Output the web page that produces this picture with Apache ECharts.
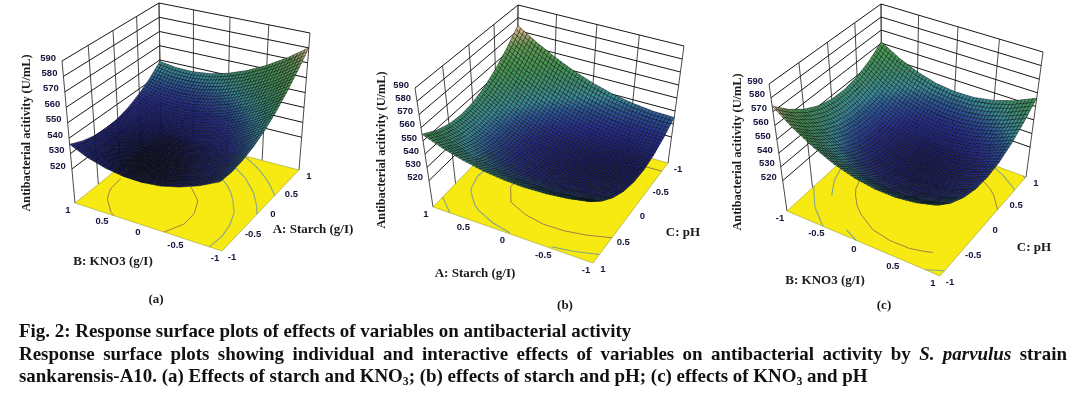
<!DOCTYPE html>
<html>
<head>
<meta charset="utf-8">
<title>Response surface plots</title>
<script src="https://cdn.jsdelivr.net/npm/echarts@6/dist/echarts.min.js"></script>
<style>
  * { margin: 0; padding: 0; }
  html, body { background: #fff; }
  #main { width: 1072px; height: 395px; }
</style>
</head>
<body>
<div id="main"></div>
<script>
// response values, rows bottom to top of the second factor
// (a) rows B: KNO3 -1..1, columns A: Starch -1..1
const surfaceA = [
  [541.0, 540.6, 541.8, 544.4, 548.5, 554.1, 561.3, 569.9, 580.0],
  [534.7, 533.9, 534.6, 536.8, 540.6, 545.8, 552.5, 560.7, 570.4],
  [530.0, 528.8, 529.1, 531.0, 534.3, 539.0, 545.4, 553.2, 562.5],
  [526.9, 525.3, 525.2, 526.6, 529.6, 534.0, 539.9, 547.3, 556.2],
  [525.5, 523.5, 523.0, 524.0, 526.5, 530.5, 536.0, 543.0, 551.5],
  [525.7, 523.3, 522.4, 523.0, 525.0, 528.6, 533.7, 540.3, 548.4],
  [527.5, 524.7, 523.4, 523.6, 525.3, 528.4, 533.1, 539.3, 547.0],
  [530.9, 527.7, 526.0, 525.8, 527.0, 529.8, 534.1, 539.9, 547.2],
  [536.0, 532.4, 530.3, 529.6, 530.5, 532.9, 536.8, 542.1, 549.0]
];
// (b) rows C: pH -1..1, columns A: Starch -1..1
const surfaceB = [
  [535.0, 535.5, 537.3, 540.2, 544.5, 550.0, 556.8, 564.7, 574.0],
  [528.1, 528.1, 529.4, 531.9, 535.7, 540.7, 547.0, 554.5, 563.3],
  [523.5, 523.0, 523.9, 525.9, 529.3, 533.8, 539.6, 546.7, 555.0],
  [521.3, 520.4, 520.8, 522.3, 525.2, 529.3, 534.6, 541.2, 549.1],
  [521.5, 520.1, 520.0, 521.1, 523.5, 527.1, 532.0, 538.1, 545.5],
  [524.1, 522.2, 521.6, 522.3, 524.2, 527.3, 531.8, 537.4, 544.3],
  [529.0, 526.7, 525.6, 525.8, 527.3, 529.9, 533.9, 539.0, 545.5],
  [536.3, 533.5, 532.0, 531.7, 532.7, 534.9, 538.4, 543.1, 549.1],
  [546.0, 542.7, 540.8, 540.0, 540.5, 542.2, 545.3, 549.5, 555.0]
];
// (c) rows C: pH -1..1, columns B: KNO3 -1..1
const surfaceC = [
  [574.0, 563.3, 554.8, 548.3, 544.0, 541.8, 541.7, 543.8, 548.0],
  [563.6, 553.2, 545.0, 538.9, 534.9, 533.1, 533.3, 535.7, 540.2],
  [555.7, 545.7, 537.8, 532.0, 528.4, 526.9, 527.4, 530.1, 535.0],
  [550.3, 540.6, 533.1, 527.6, 524.3, 523.1, 524.0, 527.0, 532.2],
  [547.5, 538.1, 530.9, 525.7, 522.8, 521.9, 523.1, 526.5, 532.0],
  [547.1, 538.0, 531.1, 526.3, 523.7, 523.2, 524.7, 528.4, 534.2],
  [549.2, 540.5, 533.9, 529.4, 527.1, 526.9, 528.8, 532.8, 539.0],
  [553.8, 545.4, 539.2, 535.0, 533.1, 533.2, 535.4, 539.8, 546.2],
  [561.0, 552.9, 547.0, 543.1, 541.5, 541.9, 544.5, 549.2, 556.0]
];
const responseTicks = [520, 530, 540, 550, 560, 570, 580, 590];
const factorTicks = [-1, -0.5, 0, 0.5, 1];
const contoursA = [527, 537, 546, 556];
const contoursB = [530, 540, 550];
const contoursC = [535, 545, 555];

const FONT_SERIF = '"Liberation Serif", serif';
const FONT_SANS = '"Liberation Sans", Arial, sans-serif';
const SUBDIV = 6;

// colour ramp of the surface
const rampStops = [518, 523, 530, 536, 541, 547, 556, 566, 574, 590];
const rampColors = ['#0c0c30', '#1a1a68', '#262c90', '#2c5698', '#3a8c98', '#3f9070', '#46974e', '#649a50', '#d8b084', '#e84c30'];

// camera of each panel: floor and top corners of the box in page pixels
// p00/p10/p11/p01 -> (column, row) fractions 00, 10, 11, 01
const views = [
  {
    values: surfaceA, levels: contoursA, zBase: 498, back: [1, 1], shade: -5,
    floor: [[222, 251], [299, 170], [161, 134], [75, 203]],
    top: [[218, 103], [310, 33], [159, 3], [62, 61]]
  },
  {
    values: surfaceB, levels: contoursB, zBase: 500, back: [1, 0], shade: 2,
    floor: [[668, 163], [517, 120], [433, 207], [593, 263]],
    top: [[684, 46], [518, 5], [415, 88], [587, 143]]
  },
  {
    values: surfaceC, levels: contoursC, zBase: 498, back: [0, 1], shade: 0,
    floor: [[787, 211], [940, 276], [1026, 177], [882, 124]],
    top: [[769, 84], [935, 146], [1043, 52], [881, 4]]
  }
];

// which factor runs along the front-left edge and the front-right edge of each panel
const edgeAxes = [
  { left: [0, 1], right: [1, 0], front: [0, 0] },
  { left: [1, 1], right: [0, 0], front: [0, 1] },
  { left: [0, 0], right: [1, 1], front: [1, 0] }
];

function quadMap(q) {
  const [p0, p1, p2, p3] = q;
  const dx1 = p1[0] - p2[0], dx2 = p3[0] - p2[0], sx = p0[0] - p1[0] + p2[0] - p3[0];
  const dy1 = p1[1] - p2[1], dy2 = p3[1] - p2[1], sy = p0[1] - p1[1] + p2[1] - p3[1];
  const det = dx1 * dy2 - dx2 * dy1;
  const g = (sx * dy2 - dx2 * sy) / det;
  const h = (dx1 * sy - sx * dy1) / det;
  const a = p1[0] - p0[0] + g * p1[0], b = p3[0] - p0[0] + h * p3[0];
  const d = p1[1] - p0[1] + g * p1[1], e = p3[1] - p0[1] + h * p3[1];
  return (u, v) => {
    const w = g * u + h * v + 1;
    return [(a * u + b * v + p0[0]) / w, (d * u + e * v + p0[1]) / w];
  };
}
views.forEach(function (view) {
  view.floorAt = quadMap(view.floor);
  view.topAt = quadMap(view.top);
});

function project(view, u, v, z) {
  const f = view.floorAt(u, v), t = view.topAt(u, v);
  const k = (z - view.zBase) / (590 - view.zBase);
  return [f[0] + (t[0] - f[0]) * k, f[1] + (t[1] - f[1]) * k];
}

function rampColor(z) {
  let i = 0;
  while (i < rampStops.length - 2 && z > rampStops[i + 1]) i++;
  const k = Math.max(0, Math.min(1, (z - rampStops[i]) / (rampStops[i + 1] - rampStops[i])));
  const hex = (c) => [1, 3, 5].map((p) => parseInt(c.substr(p, 2), 16));
  const c0 = hex(rampColors[i]), c1 = hex(rampColors[i + 1]);
  return 'rgb(' + c0.map((c, n) => Math.round(c + (c1[n] - c) * k)).join(',') + ')';
}

function line(api, a, b, color, width) {
  const p = api.coord(a), q = api.coord(b);
  return {
    type: 'line',
    shape: { x1: p[0], y1: p[1], x2: q[0], y2: q[1] },
    style: { stroke: color, lineWidth: width }
  };
}

function label(api, pt, dx, dy, text, align) {
  const p = api.coord(pt);
  return {
    type: 'text',
    style: {
      text: text, x: p[0] + dx, y: p[1] + dy, align: align, verticalAlign: 'middle',
      fill: '#14143c', font: 'bold 9.5px ' + FONT_SANS
    }
  };
}

// walls and floor of one panel
function renderFrame(view) {
  return function (params, api) {
    const children = [];
    const ub = view.back[0], vb = view.back[1];
    factorTicks.forEach(function (t) {
      const f = (t + 1) / 2;
      children.push(line(api, project(view, f, vb, view.zBase), project(view, f, vb, 590), '#4a4a4a', 1));
      children.push(line(api, project(view, ub, f, view.zBase), project(view, ub, f, 590), '#4a4a4a', 1));
    });
    responseTicks.forEach(function (z) {
      children.push(line(api, project(view, 0, vb, z), project(view, 1, vb, z), '#161616', 1));
      children.push(line(api, project(view, ub, 0, z), project(view, ub, 1, z), '#161616', 1));
    });
    const pts = view.floor.map(function (p) { return api.coord(p); });
    children.push({
      type: 'polygon', shape: { points: pts },
      style: { fill: '#f6ea12', stroke: '#8a8a30', lineWidth: 0.5 }
    });
    return { type: 'group', children: children };
  };
}

function renderLabels(view, edges) {
  return function (params, api) {
    const children = [];
    const L = edges.left, R = edges.right, F = edges.front;
    responseTicks.forEach(function (z) {
      children.push(label(api, project(view, L[0], L[1], z), -6, -3, String(z), 'right'));
    });
    factorTicks.forEach(function (t) {
      const f = (t + 1) / 2;
      const onLeft = L[0] !== F[0] ? [f, L[1]] : [L[0], f];
      const onRight = R[0] !== F[0] ? [f, R[1]] : [R[0], f];
      children.push(label(api, view.floorAt(onLeft[0], onLeft[1]), -7, 7, String(t), 'center'));
      children.push(label(api, view.floorAt(onRight[0], onRight[1]), 10, 6, String(t), 'center'));
    });
    return { type: 'group', children: children };
  };
}

// contour lines on the floor
function renderContours(view) {
  const grid = view.values, n = grid.length - 1;
  return function (params, api) {
    const children = [];
    view.levels.forEach(function (level, li) {
      const color = li === 0 ? '#8f5f58' : '#86a48c';
      for (let r = 0; r < n; r++) {
        for (let c = 0; c < n; c++) {
          const corners = [[c, r], [c + 1, r], [c + 1, r + 1], [c, r + 1]];
          const hits = [];
          for (let k = 0; k < 4; k++) {
            const a = corners[k], b = corners[(k + 1) % 4];
            const za = grid[a[1]][a[0]], zb = grid[b[1]][b[0]];
            if ((za - level) * (zb - level) < 0) {
              const m = (level - za) / (zb - za);
              hits.push(view.floorAt((a[0] + (b[0] - a[0]) * m) / n, (a[1] + (b[1] - a[1]) * m) / n));
            }
          }
          if (hits.length >= 2) {
            children.push(line(api, hits[0], hits[1], color, li === 0 ? 0.8 : 1.1));
          }
        }
      }
    });
    return { type: 'group', children: children };
  };
}

// one grid cell of the surface, shaded in small facets with a dark mesh over them
function renderCell(view) {
  const grid = view.values, n = grid.length - 1;
  const stepU = view.back[0] === 1 ? -1 : 1;
  const stepV = view.back[1] === 1 ? -1 : 1;
  return function (params, api) {
    const c = api.value(0), r = api.value(1);
    const z00 = grid[r][c], z10 = grid[r][c + 1], z01 = grid[r + 1][c], z11 = grid[r + 1][c + 1];
    const zAt = (a, b) => z00 * (1 - a) * (1 - b) + z10 * a * (1 - b) + z01 * (1 - a) * b + z11 * a * b;
    const children = [];
    for (let jj = 0; jj < SUBDIV; jj++) {
      const j = stepV === 1 ? jj : SUBDIV - 1 - jj;
      for (let ii = 0; ii < SUBDIV; ii++) {
        const i = stepU === 1 ? ii : SUBDIV - 1 - ii;
        const quad = [[i, j], [i + 1, j], [i + 1, j + 1], [i, j + 1]];
        let zSum = 0;
        const pts = quad.map(function (q) {
          const a = q[0] / SUBDIV, b = q[1] / SUBDIV, z = zAt(a, b);
          zSum += z;
          return api.coord(project(view, (c + a) / n, (r + b) / n, z));
        });
        children.push({
          type: 'polygon', shape: { points: pts },
          style: { fill: rampColor(zSum / 4 + view.shade), stroke: 'rgba(6,10,20,0.66)', lineWidth: 0.7 }
        });
      }
    }
    return { type: 'group', children: children };
  };
}

function cellsBackToFront(view) {
  const n = view.values.length - 1, out = [];
  for (let r = 0; r < n; r++) for (let c = 0; c < n; c++) out.push([c, r]);
  const ub = view.back[0] * n, vb = view.back[1] * n;
  const dist = (d) => Math.abs(d[0] + 0.5 - ub) + Math.abs(d[1] + 0.5 - vb);
  return out.sort(function (a, b) { return dist(a) - dist(b); });
}

const series = [];
views.forEach(function (view, i) {
  const base = { type: 'custom', coordinateSystem: 'cartesian2d', silent: true, animation: false, clip: false, progressive: 0 };
  series.push(Object.assign({}, base, { data: [[0, 0]], renderItem: renderFrame(view) }));
  series.push(Object.assign({}, base, { data: [[0, 0]], renderItem: renderContours(view) }));
  series.push(Object.assign({}, base, { data: cellsBackToFront(view), encode: { x: 0, y: 1 }, renderItem: renderCell(view) }));
  series.push(Object.assign({}, base, { data: [[0, 0]], renderItem: renderLabels(view, edgeAxes[i]) }));
});

// axis titles and panel letters
function titleText(text, x, y, size, rotation) {
  return {
    type: 'text', x: x, y: y, rotation: rotation || 0, silent: true,
    style: { text: text, align: 'center', verticalAlign: 'middle', fill: '#1a1a1a', font: 'bold ' + size + 'px ' + FONT_SERIF }
  };
}
const graphics = [
  titleText('Antibacterial acitivity (U/mL)', 27, 133, 12.3, Math.PI / 2),
  titleText('B: KNO3 (g/I)', 113, 262, 13),
  titleText('A: Starch (g/I)', 313, 230, 13),
  titleText('(a)', 156, 300, 13),
  titleText('Antibacterial acitivity (U/mL)', 382, 150, 12.3, Math.PI / 2),
  titleText('A: Starch (g/I)', 475, 274, 13),
  titleText('C: pH', 683, 233, 13),
  titleText('(b)', 565, 306, 13),
  titleText('Antibacterial acitivity (U/mL)', 738, 152, 12.3, Math.PI / 2),
  titleText('B: KNO3 (g/I)', 825, 281, 13),
  titleText('C: pH', 1034, 248, 13),
  titleText('(c)', 884, 306, 13)
];

// caption, one text element per word so that the justified line can be spread
const measure = document.createElement('canvas').getContext('2d');
function widthOf(text, font) { measure.font = font; return measure.measureText(text).width; }
function captionLine(words, x, y, size, fullWidth) {
  const fonts = words.map(function (w) {
    return (w.italic ? 'italic bold ' : 'bold ') + (w.sub ? size * 0.62 : size) + 'px ' + FONT_SERIF;
  });
  const widths = words.map(function (w, i) { return widthOf(w.t, fonts[i]); });
  const total = widths.reduce(function (s, v) { return s + v; }, 0);
  const gaps = words.filter(function (w, i) { return i > 0 && !w.tight; }).length;
  const gap = fullWidth ? (fullWidth - total) / gaps : widthOf(' ', fonts[0]);
  let cx = x;
  words.forEach(function (w, i) {
    if (i > 0 && !w.tight) cx += gap;
    graphics.push({
      type: 'text', x: cx, y: y + (w.sub ? 5 : 0), silent: true,
      style: { text: w.t, align: 'left', verticalAlign: 'middle', fill: '#111', font: fonts[i] }
    });
    cx += widths[i];
  });
}
const plain = (s) => s.split(' ').map((t) => ({ t: t }));
captionLine(plain('Fig. 2: Response surface plots of effects of variables on antibacterial activity'), 19, 332, 18.95);
captionLine(plain('Response surface plots showing individual and interactive effects of variables on antibacterial activity by')
  .concat([{ t: 'S.', italic: true }, { t: 'parvulus', italic: true }, { t: 'strain' }]), 19, 355, 18.95, 1048);
captionLine(plain('sankarensis-A10. (a) Effects of starch and KNO')
  .concat([{ t: '3', sub: true, tight: true }, { t: ';', tight: true }])
  .concat(plain('(b) effects of starch and pH; (c) effects of KNO'))
  .concat([{ t: '3', sub: true, tight: true }])
  .concat(plain('and pH')), 19, 377, 18.95);

const chart = echarts.init(document.getElementById('main'), null, { renderer: 'canvas' });
chart.setOption({
  animation: false,
  backgroundColor: '#ffffff',
  grid: { left: 0, right: 0, top: 0, bottom: 0 },
  xAxis: { type: 'value', min: 0, max: 1072, show: false },
  yAxis: { type: 'value', min: 0, max: 395, inverse: true, show: false },
  graphic: graphics,
  series: series
});
</script>
</body>
</html>
